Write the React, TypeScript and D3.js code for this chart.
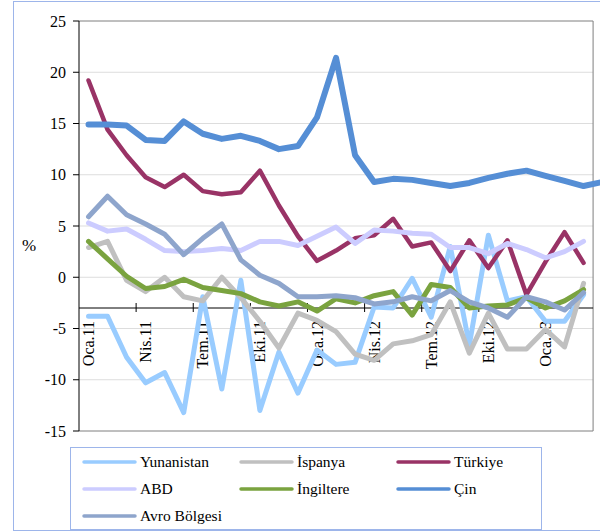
import React from "react";
import * as d3 from "d3";

const categories = [
  "Oca.11","Şub.11","Mar.11","Nis.11","May.11","Haz.11","Tem.11","Ağu.11","Eyl.11","Eki.11","Kas.11","Ara.11",
  "Oca.12","Şub.12","Mar.12","Nis.12","May.12","Haz.12","Tem.12","Ağu.12","Eyl.12","Eki.12","Kas.12","Ara.12",
  "Oca.13","Şub.13","Mar.13","Nis.13",
];
const shownLabels = ["Oca.11","Nis.11","Tem.11","Eki.11","Oca.12","Nis.12","Tem.12","Eki.12","Oca.13"];
const yTicks = [25, 20, 15, 10, 5, 0, -5, -10, -15];

const yunanistan = [-3.8,-3.8,-7.8,-10.3,-9.3,-13.2,-1.9,-10.9,-0.3,-13.0,-7.3,-11.3,-7.1,-8.5,-8.3,-2.9,-3.0,-0.1,-3.9,3.0,-6.6,4.1,-2.3,-1.9,-4.3,-4.3,-1.7];
const ispanya = [2.9,3.5,-0.3,-1.4,0.0,-1.9,-2.3,0.0,-2.0,-4.3,-6.9,-3.5,-4.2,-5.3,-7.5,-8.1,-6.5,-6.2,-5.6,-2.4,-7.4,-3.5,-7.0,-7.0,-5.1,-6.8,-0.6];
const turkiye = [19.2,14.4,11.9,9.75,8.8,10.0,8.4,8.1,8.3,10.4,7.0,4.0,1.6,2.6,3.8,4.1,5.7,3.0,3.4,0.6,3.6,0.9,3.6,-1.7,1.5,4.4,1.4];
const abd = [5.3,4.5,4.7,3.7,2.6,2.5,2.6,2.8,2.6,3.5,3.5,3.1,4.0,4.9,3.3,4.6,4.5,4.3,4.2,2.9,2.9,2.3,3.3,2.7,1.9,2.5,3.5];
const ingiltere = [3.5,1.8,0.1,-1.1,-0.9,-0.2,-1.0,-1.3,-1.6,-2.4,-2.8,-2.4,-3.3,-2.1,-2.5,-1.8,-1.4,-3.7,-0.7,-1.0,-3.0,-2.8,-2.7,-2.0,-3.0,-2.3,-1.2];
const cin = [14.9,14.9,14.8,13.4,13.3,15.2,14.0,13.5,13.8,13.3,12.5,12.8,15.6,21.4,11.9,9.3,9.6,9.5,9.2,8.9,9.2,9.7,10.1,10.4,9.9,9.4,8.9,9.3];
const avro = [5.9,7.9,6.1,5.2,4.2,2.2,3.8,5.2,1.7,0.2,-0.6,-1.9,-1.9,-1.8,-2.0,-2.6,-2.4,-1.9,-2.3,-1.3,-2.4,-3.0,-3.9,-1.9,-2.4,-3.2,-1.5];

const seriesNames = ["Yunanistan","İspanya","Türkiye","ABD","İngiltere","Çin","Avro Bölgesi"];
const seriesData = [yunanistan, ispanya, turkiye, abd, ingiltere, cin, avro];
const seriesColors = ["#99CCFF","#C0C0C0","#993366","#CCCCFF","#7AA33F","#558ED5","#8EA5CC"];
const seriesWidths = [5, 5, 4.5, 5, 5, 6, 5];
const axisCross = -3;
const plotCount = 27;

const FONT = "'Liberation Serif', 'DejaVu Serif', 'Nimbus Roman', 'Nimbus Roman No9 L', 'FreeSerif', 'Tinos', 'Noto Serif', 'Times New Roman', Times, serif";
const textStyle: React.CSSProperties = { fontFamily: FONT };

export default function App() {
  const left = 79;
  const step = 19.04;
  const x = d3.scaleBand<string>().domain(categories).range([left, left + step * categories.length]).padding(0);
  const right = (x(categories[plotCount - 1]) as number) + x.bandwidth();
  const y = d3.scaleLinear().domain([-15, 25]).range([431, 21]);
  const cx = (i: number) => (x(categories[i]) as number) + x.bandwidth() / 2;
  const line = d3.line<number>().x((_, i) => cx(i)).y((d) => y(d));
  const yAxisY = y(axisCross);

  const legendCols = [84, 241, 398];
  const legendRows = [462, 489, 516];

  return (
    <div style={{ position: "absolute", left: 0, top: 0 }}>
      <svg width={600} height={532} style={{ display: "block", fontFamily: FONT }}>
        <rect x={0} y={0} width={600} height={532} fill="#fff" />
        <rect x={13.5} y={1.5} width={600} height={529} fill="none" stroke="#9DB5EA" strokeWidth={1} />
        {yTicks.filter((t) => t !== 25 && t !== -15).map((t) => (
          <line key={t} x1={left} x2={right} y1={y(t)} y2={y(t)} stroke="#DDDDDD" strokeWidth={1} />
        ))}
        <line x1={left} x2={right} y1={y(25)} y2={y(25)} stroke="#7F7F7F" />
        <line x1={right} x2={right} y1={y(25)} y2={y(-15)} stroke="#7F7F7F" />
        <line x1={left} x2={right} y1={y(-15)} y2={y(-15)} stroke="#7F7F7F" />
        <line x1={left} x2={left} y1={y(25)} y2={y(-15)} stroke="#000" />
        {yTicks.map((t) => (
          <g key={t}>
            <line x1={left - 6} x2={left} y1={y(t)} y2={y(t)} stroke="#000" />
            <text x={66} y={y(t)} dy="0.35em" textAnchor="end" style={textStyle} fontSize={16} fill="#000">
              {t}
            </text>
          </g>
        ))}
        <text x={29} y={245} dy="0.35em" textAnchor="middle" style={textStyle} fontSize={17} fill="#000">%</text>
        <line x1={left} x2={right} y1={yAxisY} y2={yAxisY} stroke="#000" />
        {categories.slice(0, plotCount).map((c, i) =>
          i > 0 && i % 3 === 0 ? (
            <line key={c} x1={x(c) as number} x2={x(c) as number} y1={yAxisY - 5} y2={yAxisY + 4} stroke="#000" />
          ) : null
        )}
        {shownLabels.map((c) => {
          const px = (x(c) as number) + x.bandwidth() / 2;
          const py = yAxisY + 13;
          return (
            <text key={c} transform={`translate(${px},${py}) rotate(-90)`} dy="0.35em" textAnchor="end"
              style={textStyle} fontSize={16} fill="#000">
              {c}
            </text>
          );
        })}
        {seriesData.map((d, k) => (
          <path key={k} d={line(d) || ""} fill="none" stroke={seriesColors[k]} strokeWidth={seriesWidths[k]}
            strokeLinejoin="round" strokeLinecap="round" />
        ))}
        <rect x={70.5} y={447.5} width={471} height={82} fill="#fff" stroke="#9DB5EA" />
        {seriesNames.map((n, k) => {
          const col = legendCols[k % 3];
          const row = legendRows[Math.floor(k / 3)];
          return (
            <g key={n}>
              <line x1={col} x2={col + 51} y1={row} y2={row} stroke={seriesColors[k]} strokeWidth={3.5} strokeLinecap="round" />
              <text x={col + 56} y={row} dy="0.33em" style={textStyle} fontSize={15.5} fill="#000">{n}</text>
            </g>
          );
        })}
      </svg>
    </div>
  );
}
